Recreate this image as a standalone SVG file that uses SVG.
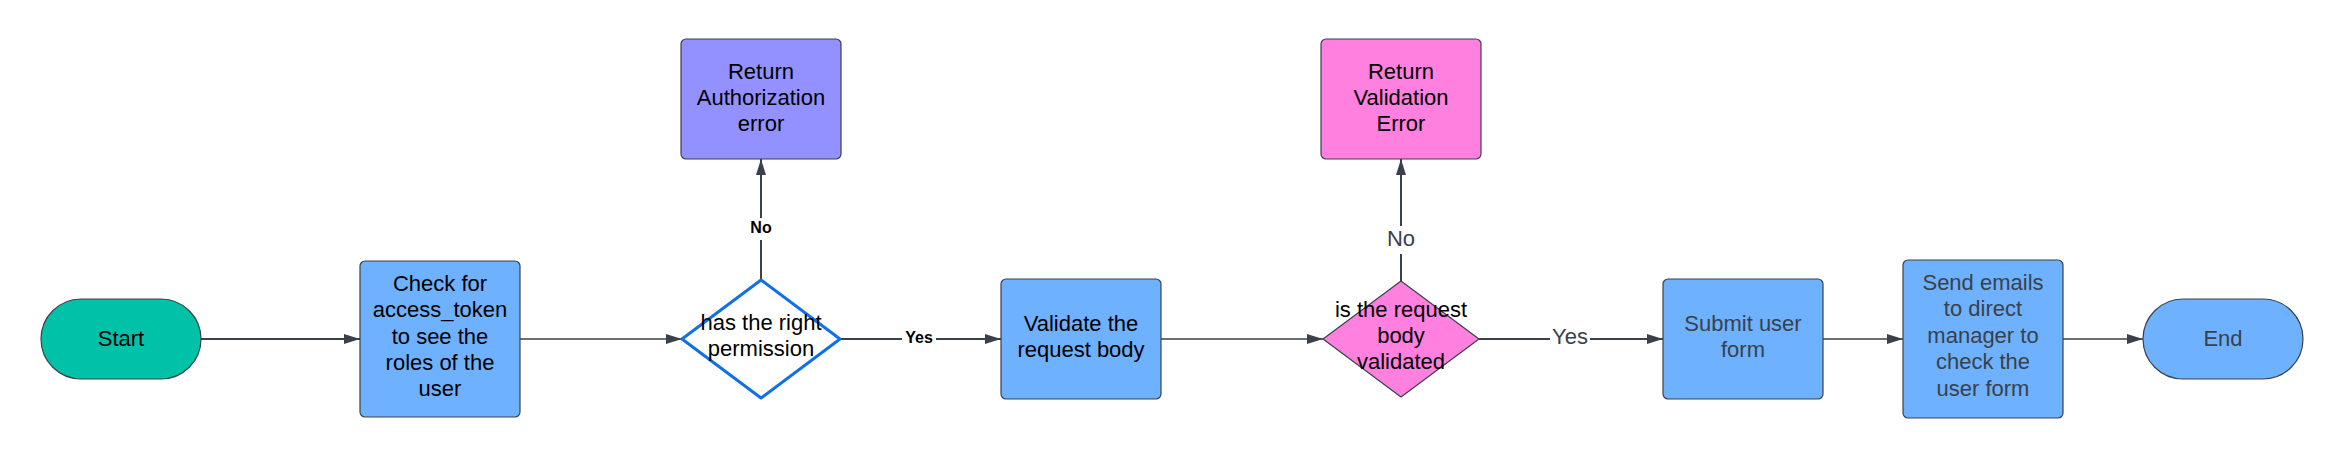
<svg xmlns="http://www.w3.org/2000/svg" width="2344" height="459" viewBox="0 0 2344 459">
  <style>
    .node { stroke: #3a414a; stroke-width: 1.2; }
    .t { font-family: "Liberation Sans", Arial, sans-serif; font-size: 22px; text-anchor: middle; fill: #000000; }
    .tg { fill: #3a414a; }
    .conn { fill: none; stroke: #3a414a; }
    .lbl-b { font-family: "Liberation Sans", Arial, sans-serif; font-size: 16px; font-weight: bold; text-anchor: middle; fill: #000000; }
    .lbl-r { font-family: "Liberation Sans", Arial, sans-serif; font-size: 22px; text-anchor: middle; fill: #3a414a; }
  </style>
  <defs>
    <marker id="arrow" markerUnits="userSpaceOnUse" markerWidth="17" markerHeight="12" refX="16" refY="6" orient="auto">
      <path d="M0,1 L16,6 L0,11 Z" fill="#3a414a"/>
    </marker>
  </defs>
  <rect width="2344" height="459" fill="#ffffff"/>

  <g id="connectors">
    <path class="conn" d="M201,339 H360" stroke-width="2" marker-end="url(#arrow)"/>
    <path class="conn" d="M520,339 H682" stroke-width="1.5" marker-end="url(#arrow)"/>
    <path class="conn" d="M761,280 V159" stroke-width="2" marker-end="url(#arrow)"/>
    <path class="conn" d="M840,339 H1001" stroke-width="2" marker-end="url(#arrow)"/>
    <path class="conn" d="M1161,339 H1323" stroke-width="1.5" marker-end="url(#arrow)"/>
    <path class="conn" d="M1401,281 V159" stroke-width="2" marker-end="url(#arrow)"/>
    <path class="conn" d="M1479,339 H1663" stroke-width="2" marker-end="url(#arrow)"/>
    <path class="conn" d="M1823,339 H1903" stroke-width="1.5" marker-end="url(#arrow)"/>
    <path class="conn" d="M2063,339 H2143" stroke-width="1.5" marker-end="url(#arrow)"/>
    <rect x="746" y="218" width="30" height="22" fill="#ffffff"/>
    <text class="lbl-b" x="761" y="233">No</text>
    <rect x="902" y="329" width="34" height="18" fill="#ffffff"/>
    <text class="lbl-b" x="919" y="343">Yes</text>
    <rect x="1383" y="226" width="36" height="28" fill="#ffffff"/>
    <text class="lbl-r" x="1401" y="246">No</text>
    <rect x="1550" y="326" width="40" height="24" fill="#ffffff"/>
    <text class="lbl-r" x="1570" y="344">Yes</text>
  </g>

  <g id="start">
    <rect class="node" x="41" y="299" width="160" height="80" rx="40" fill="#00c2a8"/>
    <text class="t" x="121" y="346">Start</text>
  </g>

  <g id="check-token">
    <rect class="node" x="360" y="261" width="160" height="156" rx="5" fill="#6db1ff"/>
    <text class="t" x="440" y="291">Check for</text>
    <text class="t" x="440" y="317">access_token</text>
    <text class="t" x="440" y="344">to see the</text>
    <text class="t" x="440" y="370">roles of the</text>
    <text class="t" x="440" y="396">user</text>
  </g>

  <g id="auth-error">
    <rect class="node" x="681" y="39" width="160" height="120" rx="5" fill="#9391ff"/>
    <text class="t" x="761" y="79">Return</text>
    <text class="t" x="761" y="105">Authorization</text>
    <text class="t" x="761" y="131">error</text>
  </g>

  <g id="permission-decision">
    <polygon points="761,280 840,339 761,398 682,339" fill="#ffffff" stroke="#1071e5" stroke-width="3" stroke-linejoin="round"/>
    <text class="t" x="761" y="330">has the right</text>
    <text class="t" x="761" y="356">permission</text>
  </g>

  <g id="validate-body">
    <rect class="node" x="1001" y="279" width="160" height="120" rx="5" fill="#6db1ff"/>
    <text class="t" x="1081" y="331">Validate the</text>
    <text class="t" x="1081" y="357">request body</text>
  </g>

  <g id="validation-error">
    <rect class="node" x="1321" y="39" width="160" height="120" rx="5" fill="#ff80df"/>
    <text class="t" x="1401" y="79">Return</text>
    <text class="t" x="1401" y="105">Validation</text>
    <text class="t" x="1401" y="131">Error</text>
  </g>

  <g id="validated-decision">
    <polygon class="node" points="1401,281 1479,339 1401,397 1323,339" fill="#ff80df" stroke-linejoin="round"/>
    <text class="t" x="1401" y="317">is the request</text>
    <text class="t" x="1401" y="343">body</text>
    <text class="t" x="1401" y="369">validated</text>
  </g>

  <g id="submit-form">
    <rect class="node" x="1663" y="279" width="160" height="120" rx="5" fill="#6db1ff"/>
    <text class="t tg" x="1743" y="331">Submit user</text>
    <text class="t tg" x="1743" y="357">form</text>
  </g>

  <g id="send-emails">
    <rect class="node" x="1903" y="260" width="160" height="158" rx="5" fill="#6db1ff"/>
    <text class="t tg" x="1983" y="290">Send emails</text>
    <text class="t tg" x="1983" y="316">to direct</text>
    <text class="t tg" x="1983" y="343">manager to</text>
    <text class="t tg" x="1983" y="369">check the</text>
    <text class="t tg" x="1983" y="396">user form</text>
  </g>

  <g id="end">
    <rect class="node" x="2143" y="299" width="160" height="80" rx="40" fill="#6db1ff"/>
    <text class="t tg" x="2223" y="346">End</text>
  </g>
</svg>
